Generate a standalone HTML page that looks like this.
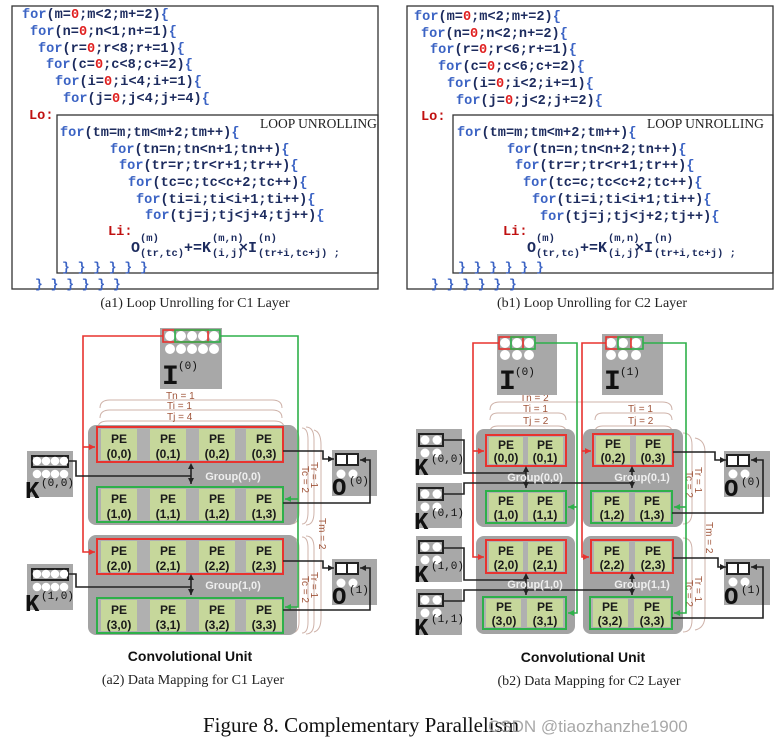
<!DOCTYPE html>
<html><head><meta charset="utf-8"><style>
body{margin:0;background:#fff;}
svg{display:block}
.c{font-family:"Liberation Mono",monospace;font-weight:bold;font-size:13.6px;fill:#1c2b5e}
.f{fill:#3b63c4}.r{fill:#e02020}.L{fill:#c01010}
.pe{font-family:"Liberation Sans",sans-serif;font-weight:bold;font-size:12px;fill:#1a1a1a;text-anchor:middle}
.cell{fill:#c6d79b}
.gl{font-family:"Liberation Sans",sans-serif;font-weight:bold;font-size:11px;fill:#eee;text-anchor:middle}
.big{font-family:"Liberation Mono",monospace;font-weight:bold;font-size:28px;fill:#111}
.sup{font-family:"Liberation Mono",monospace;font-size:11px;fill:#111}
.lab{font-family:"Liberation Sans",sans-serif;font-size:10px;fill:#a0553a}
.cap{font-family:"Liberation Serif",serif;font-size:14px;fill:#222;text-anchor:middle}
.cu{font-family:"Liberation Sans",sans-serif;font-weight:bold;font-size:14px;fill:#111;text-anchor:middle}
.ln{fill:none;stroke:#222;stroke-width:1.6}
.rl{fill:none;stroke:#e8332f;stroke-width:1.6}
.gn{fill:none;stroke:#2eb04a;stroke-width:1.6}
.br{fill:none;stroke:#cfb3aa;stroke-width:1}
.m15{font-size:15px}.m10{font-size:10.5px}.m13{font-size:13px}.k24{font-size:24px}
</style></head><body>
<svg width="782" height="746" viewBox="0 0 782 746" xmlns="http://www.w3.org/2000/svg">
<defs>
<marker id="ab" markerWidth="8" markerHeight="8" refX="6" refY="3" orient="auto" markerUnits="userSpaceOnUse"><path d="M0,0 L6,3 L0,6z" fill="#222"/></marker>
<marker id="ar" markerWidth="8" markerHeight="8" refX="6" refY="3" orient="auto" markerUnits="userSpaceOnUse"><path d="M0,0 L6,3 L0,6z" fill="#e8332f"/></marker>
<marker id="ag" markerWidth="8" markerHeight="8" refX="6" refY="3" orient="auto" markerUnits="userSpaceOnUse"><path d="M0,0 L6,3 L0,6z" fill="#2eb04a"/></marker>
<marker id="as" markerWidth="8" markerHeight="8" refX="3" refY="3" orient="auto-start-reverse" markerUnits="userSpaceOnUse"><path d="M0,0 L6,3 L0,6z" fill="#222"/></marker>
</defs>

<!-- ===== (a1) code ===== -->
<rect x="12" y="6" width="366" height="283" fill="none" stroke="#333" stroke-width="1.3"/>
<rect x="57" y="115" width="321" height="158" fill="none" stroke="#333" stroke-width="1.3"/>
<text x="260" y="128" font-family="Liberation Serif,serif" font-size="13.5" fill="#222">LOOP UNROLLING</text>
<text class="c" x="22" y="18"><tspan class="f">for</tspan>(m=<tspan class="r">0</tspan>;m&lt;2;m+=2)<tspan class="f">{</tspan></text>
<text class="c" x="30" y="35"><tspan class="f">for</tspan>(n=<tspan class="r">0</tspan>;n&lt;1;n+=1)<tspan class="f">{</tspan></text>
<text class="c" x="38" y="52"><tspan class="f">for</tspan>(r=<tspan class="r">0</tspan>;r&lt;8;r+=1)<tspan class="f">{</tspan></text>
<text class="c" x="46" y="68"><tspan class="f">for</tspan>(c=<tspan class="r">0</tspan>;c&lt;8;c+=2)<tspan class="f">{</tspan></text>
<text class="c" x="55" y="85"><tspan class="f">for</tspan>(i=<tspan class="r">0</tspan>;i&lt;4;i+=1)<tspan class="f">{</tspan></text>
<text class="c" x="63" y="102"><tspan class="f">for</tspan>(j=<tspan class="r">0</tspan>;j&lt;4;j+=4)<tspan class="f">{</tspan></text>
<text class="c L" x="29" y="119">Lo:</text>
<text class="c" x="60" y="136"><tspan class="f">for</tspan>(tm=m;tm&lt;m+2;tm++)<tspan class="f">{</tspan></text>
<text class="c" x="110" y="153"><tspan class="f">for</tspan>(tn=n;tn&lt;n+1;tn++)<tspan class="f">{</tspan></text>
<text class="c" x="119" y="169"><tspan class="f">for</tspan>(tr=r;tr&lt;r+1;tr++)<tspan class="f">{</tspan></text>
<text class="c" x="128" y="186"><tspan class="f">for</tspan>(tc=c;tc&lt;c+2;tc++)<tspan class="f">{</tspan></text>
<text class="c" x="136" y="203"><tspan class="f">for</tspan>(ti=i;ti&lt;i+1;ti++)<tspan class="f">{</tspan></text>
<text class="c" x="145" y="219"><tspan class="f">for</tspan>(tj=j;tj&lt;j+4;tj++)<tspan class="f">{</tspan></text>
<text class="c L" x="108" y="235">Li:</text>
<text class="c m15" x="131" y="252">O</text>
<text class="c m10" x="140" y="241">(m)</text>
<text class="c m10" x="140" y="256">(tr,tc)</text>
<text class="c m15" x="184" y="252">+=K</text>
<text class="c m10" x="212" y="241">(m,n)</text>
<text class="c m10" x="212" y="256">(i,j)</text>
<text class="c m15" x="239" y="252">×I</text>
<text class="c m10" x="258" y="241">(n)</text>
<text class="c m10" x="258" y="256">(tr+i,tc+j) ;</text>
<text class="c f m13" x="62" y="271">} } } } } }</text>
<text class="c f m13" x="35" y="288">} } } } } }</text>
<text class="cap" x="195" y="307">(a1) Loop Unrolling for C1 Layer</text>

<!-- ===== (b1) code ===== -->
<rect x="407" y="6" width="366" height="283" fill="none" stroke="#333" stroke-width="1.3"/>
<rect x="453" y="115" width="320" height="158" fill="none" stroke="#333" stroke-width="1.3"/>
<text x="647" y="128" font-family="Liberation Serif,serif" font-size="13.5" fill="#222">LOOP UNROLLING</text>
<text class="c" x="414" y="20"><tspan class="f">for</tspan>(m=<tspan class="r">0</tspan>;m&lt;2;m+=2)<tspan class="f">{</tspan></text>
<text class="c" x="421" y="37"><tspan class="f">for</tspan>(n=<tspan class="r">0</tspan>;n&lt;2;n+=2)<tspan class="f">{</tspan></text>
<text class="c" x="430" y="53"><tspan class="f">for</tspan>(r=<tspan class="r">0</tspan>;r&lt;6;r+=1)<tspan class="f">{</tspan></text>
<text class="c" x="438" y="70"><tspan class="f">for</tspan>(c=<tspan class="r">0</tspan>;c&lt;6;c+=2)<tspan class="f">{</tspan></text>
<text class="c" x="447" y="87"><tspan class="f">for</tspan>(i=<tspan class="r">0</tspan>;i&lt;2;i+=1)<tspan class="f">{</tspan></text>
<text class="c" x="456" y="104"><tspan class="f">for</tspan>(j=<tspan class="r">0</tspan>;j&lt;2;j+=2)<tspan class="f">{</tspan></text>
<text class="c L" x="421" y="120">Lo:</text>
<text class="c" x="457" y="136"><tspan class="f">for</tspan>(tm=m;tm&lt;m+2;tm++)<tspan class="f">{</tspan></text>
<text class="c" x="507" y="153"><tspan class="f">for</tspan>(tn=n;tn&lt;n+2;tn++)<tspan class="f">{</tspan></text>
<text class="c" x="515" y="169"><tspan class="f">for</tspan>(tr=r;tr&lt;r+1;tr++)<tspan class="f">{</tspan></text>
<text class="c" x="523" y="186"><tspan class="f">for</tspan>(tc=c;tc&lt;c+2;tc++)<tspan class="f">{</tspan></text>
<text class="c" x="532" y="203"><tspan class="f">for</tspan>(ti=i;ti&lt;i+1;ti++)<tspan class="f">{</tspan></text>
<text class="c" x="540" y="220"><tspan class="f">for</tspan>(tj=j;tj&lt;j+2;tj++)<tspan class="f">{</tspan></text>
<text class="c L" x="503" y="235">Li:</text>
<text class="c m15" x="527" y="252">O</text>
<text class="c m10" x="536" y="241">(m)</text>
<text class="c m10" x="536" y="256">(tr,tc)</text>
<text class="c m15" x="580" y="252">+=K</text>
<text class="c m10" x="608" y="241">(m,n)</text>
<text class="c m10" x="608" y="256">(i,j)</text>
<text class="c m15" x="635" y="252">×I</text>
<text class="c m10" x="654" y="241">(n)</text>
<text class="c m10" x="654" y="256">(tr+i,tc+j) ;</text>
<text class="c f m13" x="458" y="271">} } } } } }</text>
<text class="c f m13" x="431" y="288">} } } } } }</text>
<text class="cap" x="592" y="307">(b1) Loop Unrolling for C2 Layer</text>

<!-- ===== (a2) ===== -->
<path class="br" d="M100,408 Q100,400 110,400 L272,400 Q282,400 282,408"/>
<path class="br" d="M100,418 Q100,410 110,410 L272,410 Q282,410 282,418"/>
<path class="br" d="M98,428 Q98,421 108,421 L274,421 Q284,421 284,428"/>
<text class="lab" x="166" y="399">Tn = 1</text>
<text class="lab" x="167" y="409">Ti = 1</text>
<text class="lab" x="167" y="420">Tj = 4</text>
<path class="br" d="M291,428 Q299,428 299,440 L299,512 Q299,524 291,524"/>
<path class="br" d="M302,428 Q308,428 308,440 L308,512 Q308,524 302,524"/>
<path class="br" d="M306,427 Q314,427 314,440 L314,512 Q314,525 306,525"/>
<path class="br" d="M291,537 Q299,537 299,548 L299,622 Q299,633 291,633"/>
<path class="br" d="M302,537 Q308,537 308,548 L308,622 Q308,633 302,633"/>
<path class="br" d="M306,536 Q314,536 314,548 L314,622 Q314,634 306,634"/>
<path class="br" d="M314,430 Q321,432 321,445 L321,618 Q321,630 314,632"/>
<text class="lab" transform="translate(311,462) rotate(90)">Tr = 1</text>
<text class="lab" transform="translate(302,466) rotate(90)">Tc = 2</text>
<text class="lab" transform="translate(311,572) rotate(90)">Tr = 1</text>
<text class="lab" transform="translate(302,576) rotate(90)">Tc = 2</text>
<text class="lab" transform="translate(319,518) rotate(90)">Tm = 2</text>

<rect x="88" y="425" width="209" height="100" rx="8" fill="#a3a3a3"/>
<rect x="88" y="535" width="209" height="100" rx="8" fill="#a3a3a3"/>
<text class="gl" x="233" y="480">Group(0,0)</text>
<text class="gl" x="233" y="589">Group(1,0)</text>

<g>
<rect x="97" y="427" width="186" height="35" fill="#b0b0b0" stroke="#e8332f" stroke-width="2"/>
<rect class="cell" x="101" y="429" width="36" height="31"/><rect class="cell" x="150" y="429" width="36" height="31"/><rect class="cell" x="199" y="429" width="36" height="31"/><rect class="cell" x="246" y="429" width="36" height="31"/>
<text class="pe" x="119" y="443">PE</text><text class="pe" x="119" y="458">(0,0)</text>
<text class="pe" x="168" y="443">PE</text><text class="pe" x="168" y="458">(0,1)</text>
<text class="pe" x="217" y="443">PE</text><text class="pe" x="217" y="458">(0,2)</text>
<text class="pe" x="264" y="443">PE</text><text class="pe" x="264" y="458">(0,3)</text>

<rect x="97" y="487" width="186" height="35" fill="#b0b0b0" stroke="#2eb04a" stroke-width="2"/>
<rect class="cell" x="101" y="489" width="36" height="31"/><rect class="cell" x="150" y="489" width="36" height="31"/><rect class="cell" x="199" y="489" width="36" height="31"/><rect class="cell" x="246" y="489" width="36" height="31"/>
<text class="pe" x="119" y="503">PE</text><text class="pe" x="119" y="518">(1,0)</text>
<text class="pe" x="168" y="503">PE</text><text class="pe" x="168" y="518">(1,1)</text>
<text class="pe" x="217" y="503">PE</text><text class="pe" x="217" y="518">(1,2)</text>
<text class="pe" x="264" y="503">PE</text><text class="pe" x="264" y="518">(1,3)</text>

<rect x="97" y="539" width="186" height="35" fill="#b0b0b0" stroke="#e8332f" stroke-width="2"/>
<rect class="cell" x="101" y="541" width="36" height="31"/><rect class="cell" x="150" y="541" width="36" height="31"/><rect class="cell" x="199" y="541" width="36" height="31"/><rect class="cell" x="246" y="541" width="36" height="31"/>
<text class="pe" x="119" y="555">PE</text><text class="pe" x="119" y="570">(2,0)</text>
<text class="pe" x="168" y="555">PE</text><text class="pe" x="168" y="570">(2,1)</text>
<text class="pe" x="217" y="555">PE</text><text class="pe" x="217" y="570">(2,2)</text>
<text class="pe" x="264" y="555">PE</text><text class="pe" x="264" y="570">(2,3)</text>

<rect x="97" y="598" width="186" height="35" fill="#b0b0b0" stroke="#2eb04a" stroke-width="2"/>
<rect class="cell" x="101" y="600" width="36" height="31"/><rect class="cell" x="150" y="600" width="36" height="31"/><rect class="cell" x="199" y="600" width="36" height="31"/><rect class="cell" x="246" y="600" width="36" height="31"/>
<text class="pe" x="119" y="614">PE</text><text class="pe" x="119" y="629">(3,0)</text>
<text class="pe" x="168" y="614">PE</text><text class="pe" x="168" y="629">(3,1)</text>
<text class="pe" x="217" y="614">PE</text><text class="pe" x="217" y="629">(3,2)</text>
<text class="pe" x="264" y="614">PE</text><text class="pe" x="264" y="629">(3,3)</text>
</g>

<rect x="160" y="328" width="62" height="61" fill="#a8a8a8"/>
<g fill="#fff"><circle cx="170" cy="336" r="5"/><circle cx="181" cy="336" r="5"/><circle cx="192" cy="336" r="5"/><circle cx="203" cy="336" r="5"/><circle cx="214" cy="336" r="5"/>
<circle cx="170" cy="349" r="5"/><circle cx="181" cy="349" r="5"/><circle cx="192" cy="349" r="5"/><circle cx="203" cy="349" r="5"/><circle cx="214" cy="349" r="5"/></g>
<rect x="163" y="330" width="45" height="12" fill="none" stroke="#e8332f" stroke-width="1.6"/>
<rect x="175" y="330" width="45" height="12" fill="none" stroke="#2eb04a" stroke-width="1.6"/>
<text class="big" x="162" y="384">I</text><text class="sup" x="178" y="369">(0)</text>

<path class="rl" d="M163,336 L83,336 L83,552 L95,552" marker-end="url(#ar)"/>
<path class="rl" d="M83,447 L95,447" marker-end="url(#ar)"/>
<path class="gn" d="M220,336 L298,336 L298,607 L285,607" marker-end="url(#ag)"/>
<path class="gn" d="M298,499 L285,499" marker-end="url(#ag)"/>

<rect x="27" y="451" width="46" height="46" fill="#a8a8a8"/>
<rect x="32" y="456" width="36" height="11" fill="none" stroke="#222" stroke-width="2"/>
<g fill="#fff"><circle cx="37" cy="461" r="4.3"/><circle cx="46" cy="461" r="4.3"/><circle cx="55" cy="461" r="4.3"/><circle cx="64" cy="461" r="4.3"/>
<circle cx="37" cy="474" r="4.3"/><circle cx="46" cy="474" r="4.3"/><circle cx="55" cy="474" r="4.3"/><circle cx="64" cy="474" r="4.3"/></g>
<text class="big k24" x="25" y="498">K</text><text class="sup" x="41" y="486">(0,0)</text>
<rect x="27" y="564" width="46" height="46" fill="#a8a8a8"/>
<rect x="32" y="569" width="36" height="11" fill="none" stroke="#222" stroke-width="2"/>
<g fill="#fff"><circle cx="37" cy="574" r="4.3"/><circle cx="46" cy="574" r="4.3"/><circle cx="55" cy="574" r="4.3"/><circle cx="64" cy="574" r="4.3"/>
<circle cx="37" cy="587" r="4.3"/><circle cx="46" cy="587" r="4.3"/><circle cx="55" cy="587" r="4.3"/><circle cx="64" cy="587" r="4.3"/></g>
<text class="big k24" x="25" y="611">K</text><text class="sup" x="41" y="599">(1,0)</text>
<path class="ln" d="M68,461 L76,461 L76,476 L191,476"/>
<path class="ln" d="M68,574 L76,574 L76,587 L191,587"/>
<path class="ln" d="M191,466 L191,484" marker-start="url(#as)" marker-end="url(#ab)"/>
<path class="ln" d="M191,577 L191,595" marker-start="url(#as)" marker-end="url(#ab)"/>

<rect x="332" y="450" width="45" height="46" fill="#a8a8a8"/>
<rect x="336" y="454" width="11" height="11" fill="#fff" stroke="#222" stroke-width="2"/><rect x="347" y="454" width="11" height="11" fill="#fff" stroke="#222" stroke-width="2"/>
<circle cx="341" cy="474" r="4.5" fill="#fff"/><circle cx="353" cy="474" r="4.5" fill="#fff"/>
<text class="big k24" x="332" y="495">O</text><text class="sup" x="349" y="484">(0)</text>
<rect x="332" y="559" width="45" height="46" fill="#a8a8a8"/>
<rect x="336" y="563" width="11" height="11" fill="#fff" stroke="#222" stroke-width="2"/><rect x="347" y="563" width="11" height="11" fill="#fff" stroke="#222" stroke-width="2"/>
<circle cx="341" cy="583" r="4.5" fill="#fff"/><circle cx="353" cy="583" r="4.5" fill="#fff"/>
<text class="big k24" x="332" y="604">O</text><text class="sup" x="349" y="593">(1)</text>
<path class="ln" d="M283,451 L323,451 L323,459 L334,459" marker-end="url(#ab)"/>
<path class="ln" d="M283,503 L370,503 L370,460 L360,460" marker-end="url(#ab)"/>
<path class="ln" d="M283,561 L323,561 L323,568 L334,568" marker-end="url(#ab)"/>
<path class="ln" d="M283,610 L370,610 L370,568 L360,568" marker-end="url(#ab)"/>

<text class="cu" x="190" y="661">Convolutional Unit</text>
<text class="cap" x="193" y="684">(a2) Data Mapping for C1 Layer</text>

<!-- ===== (b2) ===== -->
<path class="br" d="M490,410 Q490,402 500,402 L662,402 Q672,402 672,410"/>
<text class="lab" x="520" y="401">Tn = 2</text>
<path class="br" d="M490,420 Q490,413 498,413 L558,413 Q566,413 566,420"/>
<path class="br" d="M490,432 Q490,426 498,426 L558,426 Q566,426 566,432"/>
<text class="lab" x="523" y="412">Ti = 1</text><text class="lab" x="523" y="424">Tj = 2</text>
<path class="br" d="M595,420 Q595,413 603,413 L664,413 Q672,413 672,420"/>
<path class="br" d="M595,432 Q595,426 603,426 L664,426 Q672,426 672,432"/>
<text class="lab" x="628" y="412">Ti = 1</text><text class="lab" x="628" y="424">Tj = 2</text>
<path class="br" d="M683,433 Q692,433 692,445 L692,512 Q692,524 683,524"/>
<path class="br" d="M683,538 Q692,538 692,550 L692,620 Q692,632 683,632"/>
<path class="br" d="M695,438 Q705,440 705,452 L705,615 Q705,628 695,630"/>
<text class="lab" transform="translate(695,467) rotate(90)">Tr = 1</text>
<text class="lab" transform="translate(686,471) rotate(90)">Tc = 2</text>
<text class="lab" transform="translate(695,576) rotate(90)">Tr = 1</text>
<text class="lab" transform="translate(686,580) rotate(90)">Tc = 2</text>
<text class="lab" transform="translate(706,522) rotate(90)">Tm = 2</text>

<rect x="476" y="429" width="99" height="98" rx="8" fill="#a3a3a3"/>
<rect x="583" y="429" width="100" height="98" rx="8" fill="#a3a3a3"/>
<rect x="476" y="536" width="99" height="98" rx="8" fill="#a3a3a3"/>
<rect x="583" y="536" width="100" height="98" rx="8" fill="#a3a3a3"/>

<g>
<rect x="486" y="435" width="80" height="31" fill="#b0b0b0" stroke="#e8332f" stroke-width="2"/>
<rect class="cell" x="489" y="437" width="34" height="27"/><rect class="cell" x="528" y="437" width="35" height="27"/>
<text class="pe" x="506" y="449">PE</text><text class="pe" x="506" y="462">(0,0)</text><text class="pe" x="545" y="449">PE</text><text class="pe" x="545" y="462">(0,1)</text>
<rect x="486" y="491" width="80" height="32" fill="#b0b0b0" stroke="#2eb04a" stroke-width="2"/>
<rect class="cell" x="489" y="493" width="34" height="28"/><rect class="cell" x="528" y="493" width="35" height="28"/>
<text class="pe" x="506" y="505">PE</text><text class="pe" x="506" y="519">(1,0)</text><text class="pe" x="545" y="505">PE</text><text class="pe" x="545" y="519">(1,1)</text>
<rect x="486" y="540" width="80" height="33" fill="#b0b0b0" stroke="#e8332f" stroke-width="2"/>
<rect class="cell" x="489" y="542" width="34" height="29"/><rect class="cell" x="528" y="542" width="35" height="29"/>
<text class="pe" x="506" y="555">PE</text><text class="pe" x="506" y="569">(2,0)</text><text class="pe" x="545" y="555">PE</text><text class="pe" x="545" y="569">(2,1)</text>
<rect x="483" y="597" width="83" height="32" fill="#b0b0b0" stroke="#2eb04a" stroke-width="2"/>
<rect class="cell" x="486" y="599" width="35" height="28"/><rect class="cell" x="527" y="599" width="36" height="28"/>
<text class="pe" x="504" y="611">PE</text><text class="pe" x="545" y="611">PE</text><text class="pe" x="504" y="625">(3,0)</text><text class="pe" x="545" y="625">(3,1)</text>

<rect x="593" y="434" width="80" height="32" fill="#b0b0b0" stroke="#e8332f" stroke-width="2"/>
<rect class="cell" x="596" y="436" width="34" height="28"/><rect class="cell" x="636" y="436" width="35" height="28"/>
<text class="pe" x="613" y="448">PE</text><text class="pe" x="613" y="462">(0,2)</text><text class="pe" x="653" y="448">PE</text><text class="pe" x="653" y="462">(0,3)</text>
<rect x="591" y="491" width="81" height="32" fill="#b0b0b0" stroke="#2eb04a" stroke-width="2"/>
<rect class="cell" x="594" y="493" width="35" height="28"/><rect class="cell" x="635" y="493" width="35" height="28"/>
<text class="pe" x="612" y="505">PE</text><text class="pe" x="652" y="505">PE</text><text class="pe" x="612" y="519">(1,2)</text><text class="pe" x="652" y="519">(1,3)</text>
<rect x="591" y="540" width="82" height="33" fill="#b0b0b0" stroke="#e8332f" stroke-width="2"/>
<rect class="cell" x="594" y="542" width="35" height="29"/><rect class="cell" x="635" y="542" width="36" height="29"/>
<text class="pe" x="612" y="555">PE</text><text class="pe" x="653" y="555">PE</text><text class="pe" x="612" y="569">(2,2)</text><text class="pe" x="653" y="569">(2,3)</text>
<rect x="590" y="597" width="82" height="32" fill="#b0b0b0" stroke="#2eb04a" stroke-width="2"/>
<rect class="cell" x="593" y="599" width="35" height="28"/><rect class="cell" x="634" y="599" width="36" height="28"/>
<text class="pe" x="610" y="611">PE</text><text class="pe" x="652" y="611">PE</text><text class="pe" x="610" y="625">(3,2)</text><text class="pe" x="652" y="625">(3,3)</text>
</g>

<rect x="497" y="334" width="60" height="61" fill="#a8a8a8"/>
<g fill="#fff"><circle cx="505" cy="343" r="5"/><circle cx="517" cy="343" r="5"/><circle cx="529" cy="343" r="5"/><circle cx="505" cy="355" r="5"/><circle cx="517" cy="355" r="5"/><circle cx="529" cy="355" r="5"/></g>
<rect x="499" y="337" width="24" height="12" fill="none" stroke="#e8332f" stroke-width="1.6"/>
<rect x="511" y="337" width="24" height="12" fill="none" stroke="#2eb04a" stroke-width="1.6"/>
<text class="big" x="499" y="389">I</text><text class="sup" x="515" y="375">(0)</text>
<rect x="602" y="334" width="61" height="61" fill="#a8a8a8"/>
<g fill="#fff"><circle cx="611" cy="343" r="5"/><circle cx="623" cy="343" r="5"/><circle cx="636" cy="343" r="5"/><circle cx="611" cy="355" r="5"/><circle cx="623" cy="355" r="5"/><circle cx="636" cy="355" r="5"/></g>
<rect x="606" y="337" width="25" height="12" fill="none" stroke="#e8332f" stroke-width="1.6"/>
<rect x="618" y="337" width="25" height="12" fill="none" stroke="#2eb04a" stroke-width="1.6"/>
<text class="big" x="604" y="389">I</text><text class="sup" x="620" y="375">(1)</text>

<path class="rl" d="M499,343 L473,343 L473,557 L484,557" marker-end="url(#ar)"/>
<path class="rl" d="M473,451 L484,451" marker-end="url(#ar)"/>
<path class="rl" d="M606,343 L582,343 L582,557 L589,557" marker-end="url(#ar)"/>
<path class="rl" d="M582,451 L591,451" marker-end="url(#ar)"/>
<path class="gn" d="M535,343 L577,343 L577,613 L568,613" marker-end="url(#ag)"/>
<path class="gn" d="M577,507 L568,507" marker-end="url(#ag)"/>
<path class="gn" d="M643,343 L686,343 L686,613 L674,613" marker-end="url(#ag)"/>
<path class="gn" d="M686,507 L674,507" marker-end="url(#ag)"/>

<g>
<rect x="416" y="429" width="46" height="46" fill="#a8a8a8"/>
<rect x="419" y="434" width="24" height="12" fill="none" stroke="#222" stroke-width="2"/>
<circle cx="425" cy="440" r="4.5" fill="#fff"/><circle cx="437" cy="440" r="4.5" fill="#fff"/><circle cx="425" cy="453" r="4.5" fill="#fff"/><circle cx="437" cy="453" r="4.5" fill="#fff"/>
<text class="big k24" x="414" y="475">K</text><text class="sup" x="431" y="462">(0,0)</text>
<rect x="416" y="483" width="46" height="45" fill="#a8a8a8"/>
<rect x="419" y="488" width="24" height="12" fill="none" stroke="#222" stroke-width="2"/>
<circle cx="425" cy="494" r="4.5" fill="#fff"/><circle cx="437" cy="494" r="4.5" fill="#fff"/><circle cx="425" cy="507" r="4.5" fill="#fff"/><circle cx="437" cy="507" r="4.5" fill="#fff"/>
<text class="big k24" x="414" y="529">K</text><text class="sup" x="431" y="516">(0,1)</text>
<rect x="416" y="536" width="46" height="46" fill="#a8a8a8"/>
<rect x="419" y="541" width="24" height="12" fill="none" stroke="#222" stroke-width="2"/>
<circle cx="425" cy="547" r="4.5" fill="#fff"/><circle cx="437" cy="547" r="4.5" fill="#fff"/><circle cx="425" cy="560" r="4.5" fill="#fff"/><circle cx="437" cy="560" r="4.5" fill="#fff"/>
<text class="big k24" x="414" y="582">K</text><text class="sup" x="431" y="569">(1,0)</text>
<rect x="416" y="589" width="46" height="46" fill="#a8a8a8"/>
<rect x="419" y="594" width="24" height="12" fill="none" stroke="#222" stroke-width="2"/>
<circle cx="425" cy="600" r="4.5" fill="#fff"/><circle cx="437" cy="600" r="4.5" fill="#fff"/><circle cx="425" cy="613" r="4.5" fill="#fff"/><circle cx="437" cy="613" r="4.5" fill="#fff"/>
<text class="big k24" x="414" y="635">K</text><text class="sup" x="431" y="622">(1,1)</text>
</g>
<path class="ln" d="M443,440 L464,440 L464,473 L526,473"/>
<path class="ln" d="M443,494 L464,494 L464,483 L632,483"/>
<path class="ln" d="M443,548 L464,548 L464,580 L526,580"/>
<path class="ln" d="M443,601 L464,601 L464,590 L632,590"/>
<path class="ln" d="M526,469 L526,488" marker-start="url(#as)" marker-end="url(#ab)"/>
<path class="ln" d="M632,469 L632,488" marker-start="url(#as)" marker-end="url(#ab)"/>
<path class="ln" d="M526,576 L526,595" marker-start="url(#as)" marker-end="url(#ab)"/>
<path class="ln" d="M632,576 L632,595" marker-start="url(#as)" marker-end="url(#ab)"/>
<text class="gl" x="535" y="481">Group(0,0)</text>
<text class="gl" x="642" y="481">Group(0,1)</text>
<text class="gl" x="535" y="588">Group(1,0)</text>
<text class="gl" x="642" y="588">Group(1,1)</text>

<rect x="724" y="451" width="46" height="46" fill="#a8a8a8"/>
<rect x="727" y="455" width="11" height="11" fill="#fff" stroke="#222" stroke-width="2"/><rect x="738" y="455" width="11" height="11" fill="#fff" stroke="#222" stroke-width="2"/>
<circle cx="733" cy="474" r="4.5" fill="#fff"/><circle cx="745" cy="474" r="4.5" fill="#fff"/>
<text class="big k24" x="724" y="496">O</text><text class="sup" x="741" y="485">(0)</text>
<rect x="724" y="559" width="46" height="46" fill="#a8a8a8"/>
<rect x="727" y="563" width="11" height="11" fill="#fff" stroke="#222" stroke-width="2"/><rect x="738" y="563" width="11" height="11" fill="#fff" stroke="#222" stroke-width="2"/>
<circle cx="733" cy="582" r="4.5" fill="#fff"/><circle cx="745" cy="582" r="4.5" fill="#fff"/>
<text class="big k24" x="724" y="604">O</text><text class="sup" x="741" y="593">(1)</text>
<path class="ln" d="M673,452 L715,452 L715,460 L726,460" marker-end="url(#ab)"/>
<path class="ln" d="M672,513 L763,513 L763,460 L751,460" marker-end="url(#ab)"/>
<path class="ln" d="M673,558 L718,558 L718,567 L726,567" marker-end="url(#ab)"/>
<path class="ln" d="M672,618 L763,618 L763,567 L751,567" marker-end="url(#ab)"/>

<text class="cu" x="583" y="662">Convolutional Unit</text>
<text class="cap" x="589" y="685">(b2) Data Mapping for C2 Layer</text>

<text x="203" y="732" font-family="Liberation Serif,serif" font-size="21" fill="#111">Figure 8. Complementary Parallelism</text>
<text x="488" y="732" font-family="Liberation Sans,sans-serif" font-size="17" fill="#999" fill-opacity="0.85">CSDN @tiaozhanzhe1900</text>
</svg>
</body></html>
